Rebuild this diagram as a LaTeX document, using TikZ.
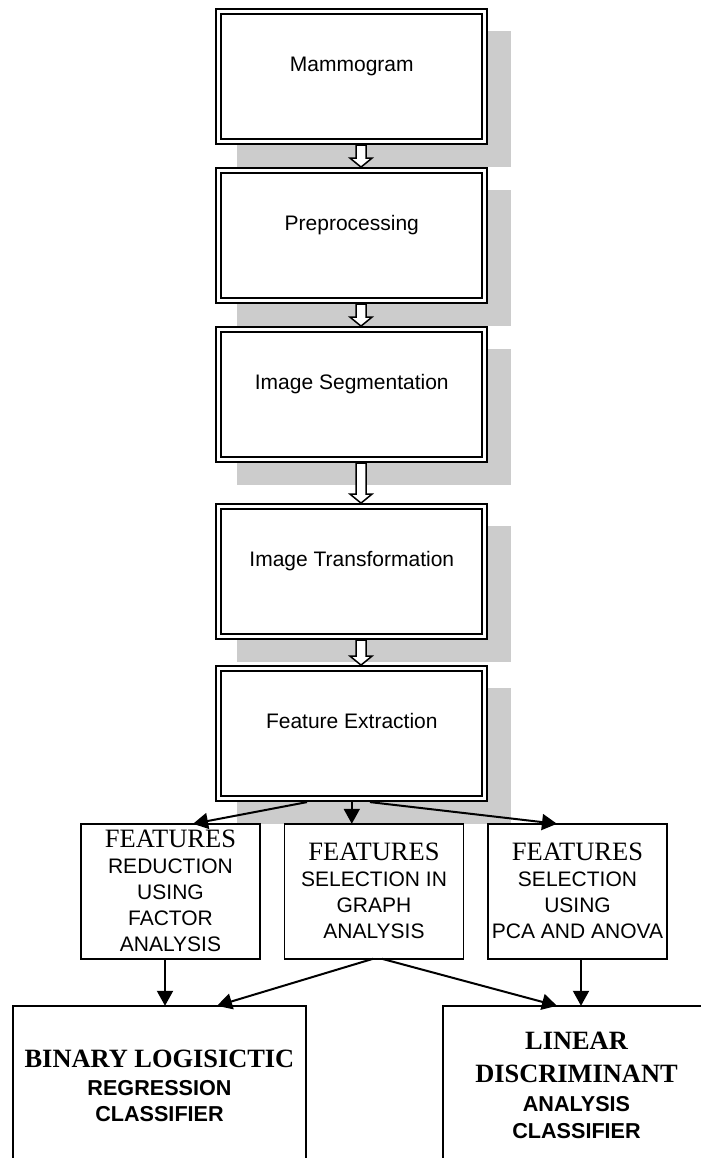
\documentclass[tikz,border=0pt]{standalone}
\usepackage{fontspec}
\setmainfont{Liberation Serif}
\setsansfont{Liberation Sans}
\usetikzlibrary{arrows.meta,positioning,calc,backgrounds}

\begin{document}
\begin{tikzpicture}[node distance=14.5pt,
    stepbox/.style={draw, double, line width=1pt, double distance=1.5pt, fill=white, outer sep=0pt, inner sep=0pt, minimum width=133pt, minimum height=65pt, font=\sffamily\fontsize{10.5}{12.5}\selectfont, text height=7.5pt, text depth=13pt},
    featbox/.style={draw, line width=0.9pt, fill=white, outer sep=0pt, inner sep=0pt, minimum width=89.5pt, minimum height=67.5pt, align=center, font=\sffamily\fontsize{10.5}{13}\selectfont},
    clsbox/.style={draw, line width=0.9pt, fill=white, outer sep=0pt, inner sep=0pt, minimum height=80pt, align=center, font=\sffamily\bfseries\fontsize{10.8}{13.5}\selectfont},
    blockarr/.style={draw, line width=0.75pt, fill=white, to path={
      ($(\tikztostart)+(-2.5pt,0)$) -- ($(\tikztotarget)+(-2.5pt,4.5pt)$) -- ($(\tikztotarget)+(-5.5pt,4.5pt)$) -- (\tikztotarget) -- ($(\tikztotarget)+(5.5pt,4.5pt)$) -- ($(\tikztotarget)+(2.5pt,4.5pt)$) -- ($(\tikztostart)+(2.5pt,0)$) -- cycle}},
    arr/.style={-{Triangle[length=7.5pt, width=8pt]}, line width=1pt},
    shadowfill/.style={fill=black!20}]
    \useasboundingbox (0,0) rectangle (350.5pt,-579pt);
    % main column
    \node[stepbox] (mam) at (175.9pt,-38.3pt) {Mammogram};
    \node[stepbox, below=of mam] (pre) {Preprocessing};
    \node[stepbox, below=of pre] (seg) {Image Segmentation};
    \node[stepbox, below=23.5pt of seg] (tra) {Image Transformation};
    \node[stepbox, below=16pt of tra] (fex) {Feature Extraction};
    % feature boxes
    \node[featbox, below=12.6pt of fex, xshift=11.1pt] (gra) {{\rmfamily\fontsize{13.25}{13}\selectfont FEATURES}\\SELECTION IN\\GRAPH\\ANALYSIS};
    \node[featbox, left=12.25pt of gra] (red) {{\rmfamily\fontsize{13.25}{13}\selectfont FEATURES}\\REDUCTION\\USING\\FACTOR\\ANALYSIS};
    \node[featbox, right=12.25pt of gra] (pca) {{\rmfamily\fontsize{13.25}{13}\selectfont FEATURES}\\SELECTION\\USING\\PCA AND ANOVA};
    % classifiers
    \node[clsbox, minimum width=146.5pt, below=23.5pt of red, xshift=-5.5pt] (blr) {{\rmfamily\bfseries\fontsize{13.2}{14}\selectfont BINARY LOGISICTIC}\\[0.5pt]REGRESSION\\[-0.5pt]CLASSIFIER};
    \node[clsbox, minimum width=133.5pt, below=23.5pt of pca, xshift=-0.5pt] (lda) {{\rmfamily\bfseries\fontsize{13.2}{14}\selectfont LINEAR}\\[3pt]{\rmfamily\bfseries\fontsize{13.2}{14}\selectfont DISCRIMINANT}\\[1pt]ANALYSIS\\CLASSIFIER};
    % shadows
    \begin{scope}[on background layer]
      \foreach \n in {mam,pre,seg,tra,fex}
        \fill[shadowfill] ([shift={(9.25pt,-12.5pt)}]\n.south west) rectangle ([shift={(13pt,-9.75pt)}]\n.north east);
    \end{scope}
    % block arrows
    \draw[blockarr] ([xshift=4.6pt,yshift=-1.75pt]mam.south) to ([xshift=4.6pt,yshift=1.75pt]pre.north);
    \draw[blockarr] ([xshift=4.6pt,yshift=-1.75pt]pre.south) to ([xshift=4.6pt,yshift=1.75pt]seg.north);
    \draw[blockarr] ([xshift=4.6pt,yshift=-1.75pt]seg.south) to ([xshift=4.6pt,yshift=1.75pt]tra.north);
    \draw[blockarr] ([xshift=4.6pt,yshift=-1.75pt]tra.south) to ([xshift=4.6pt,yshift=1.75pt]fex.north);
    % arrows
    \draw[arr] ([xshift=-22.4pt,yshift=-1.75pt]fex.south) -- ([xshift=11.25pt]red.north);
    \draw[arr] ([yshift=-1.75pt]fex.south) -- ([xshift=-11.1pt]gra.north);
    \draw[arr] ([xshift=9.1pt,yshift=-1.75pt]fex.south) -- ([xshift=-10.25pt]pca.north);
    \draw[arr] ([xshift=-2.75pt]red.south) -- ([xshift=2.75pt]blr.north);
    \draw[arr] ([xshift=-0.5pt]gra.south) -- ([xshift=28.75pt]blr.north);
    \draw[arr] ([xshift=4pt]gra.south) -- ([xshift=-9.75pt]lda.north);
    \draw[arr] ([xshift=1.75pt]pca.south) -- ([xshift=2.25pt]lda.north);
  \end{tikzpicture}
\end{document}
